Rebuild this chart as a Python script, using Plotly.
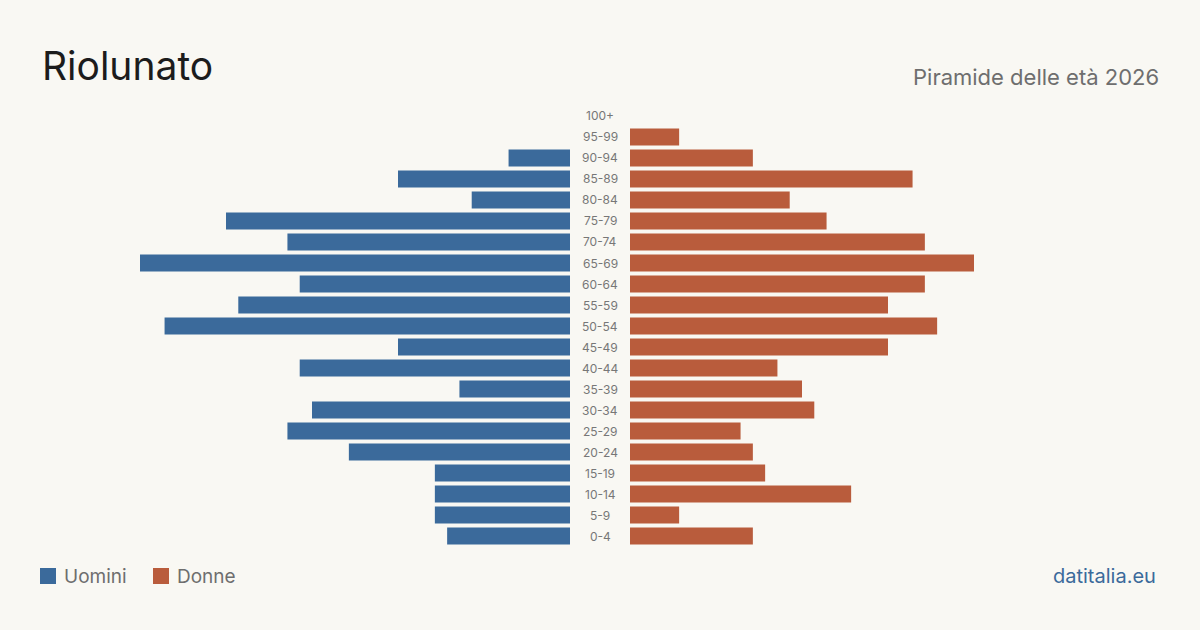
import plotly.graph_objects as go

age_groups = ["0-4", "5-9", "10-14", "15-19", "20-24", "25-29", "30-34", "35-39",
              "40-44", "45-49", "50-54", "55-59", "60-64", "65-69", "70-74", "75-79",
              "80-84", "85-89", "90-94", "95-99", "100+"]
uomini = [10, 11, 11, 11, 18, 23, 21, 9, 22, 14, 33, 27, 22, 35, 23, 28, 8, 14, 5, 0, 0]
donne = [10, 4, 18, 11, 10, 9, 15, 14, 12, 21, 25, 21, 24, 28, 24, 16, 13, 23, 10, 4, 0]

title_text = "Riolunato"
subtitle_text = "Piramide delle età 2026"
source_text = "datitalia.eu"
series_names = ["Uomini", "Donne"]

BLUE = "#3b6a9b"
ORANGE = "#b95c3c"
BG = "#f9f8f3"
FONT = "Inter, Roboto, sans-serif"

W, H = 1200, 630
vmax = max(max(uomini), max(donne))


def nz(vals):
    # zero-valued groups are drawn as no bar at all
    return [v if v else None for v in vals]


fig = go.Figure()
fig.add_trace(go.Bar(y=age_groups, x=nz(uomini), orientation="h", marker_color=BLUE,
                     marker_line_width=0, name=series_names[0], xaxis="x", yaxis="y",
                     showlegend=False, hoverinfo="x+y"))
fig.add_trace(go.Bar(y=age_groups, x=nz(donne), orientation="h", marker_color=ORANGE,
                     marker_line_width=0, name=series_names[1], xaxis="x2", yaxis="y",
                     showlegend=False, hoverinfo="x+y"))

annotations = []
for ag in age_groups:
    annotations.append(dict(x=600 / W, xref="paper", y=ag, yref="y", text=ag,
                            showarrow=False, xanchor="center", yanchor="middle",
                            font=dict(family=FONT, size=12, color="#777777")))

annotations += [
    dict(x=40 / W, y=1 - 66 / H, xref="paper", yref="paper", text=title_text,
         showarrow=False, xanchor="left", yanchor="middle",
         font=dict(family=FONT, size=39, color="#1c1c1c")),
    dict(x=1161 / W, y=1 - 77 / H, xref="paper", yref="paper", text=subtitle_text,
         showarrow=False, xanchor="right", yanchor="middle",
         font=dict(family=FONT, size=22, color="#6e6e6e")),
    dict(x=1158 / W, y=1 - 576 / H, xref="paper", yref="paper", text=source_text,
         showarrow=False, xanchor="right", yanchor="middle",
         font=dict(family=FONT, size=20, color="#3b6a9b")),
    dict(x=62 / W, y=1 - 576 / H, xref="paper", yref="paper", text=series_names[0],
         showarrow=False, xanchor="left", yanchor="middle",
         font=dict(family=FONT, size=19, color="#6e6e6e")),
    dict(x=175 / W, y=1 - 576 / H, xref="paper", yref="paper", text=series_names[1],
         showarrow=False, xanchor="left", yanchor="middle",
         font=dict(family=FONT, size=19, color="#6e6e6e")),
]

shapes = [
    dict(type="rect", xref="paper", yref="paper", x0=40 / W, x1=56 / W,
         y0=1 - 584 / H, y1=1 - 568 / H, fillcolor=BLUE, line_width=0),
    dict(type="rect", xref="paper", yref="paper", x0=153 / W, x1=169 / W,
         y0=1 - 584 / H, y1=1 - 568 / H, fillcolor=ORANGE, line_width=0),
]

top_px, bot_px = 105.5, 546.5
fig.update_layout(
    width=W, height=H,
    margin=dict(l=0, r=0, t=0, b=0),
    paper_bgcolor=BG, plot_bgcolor=BG,
    bargap=0.19,
    xaxis=dict(domain=[140 / W, 570 / W], range=[vmax, 0], visible=False, fixedrange=True),
    xaxis2=dict(domain=[630 / W, 1060 / W], range=[0, vmax], visible=False, fixedrange=True),
    yaxis=dict(domain=[1 - bot_px / H, 1 - top_px / H], type="category",
               categoryorder="array", categoryarray=age_groups,
               range=[-0.5, len(age_groups) - 0.5], visible=False, fixedrange=True),
    annotations=annotations,
    shapes=shapes,
    font=dict(family=FONT),
)

fig.write_html("out.html", config={"displayModeBar": False})
